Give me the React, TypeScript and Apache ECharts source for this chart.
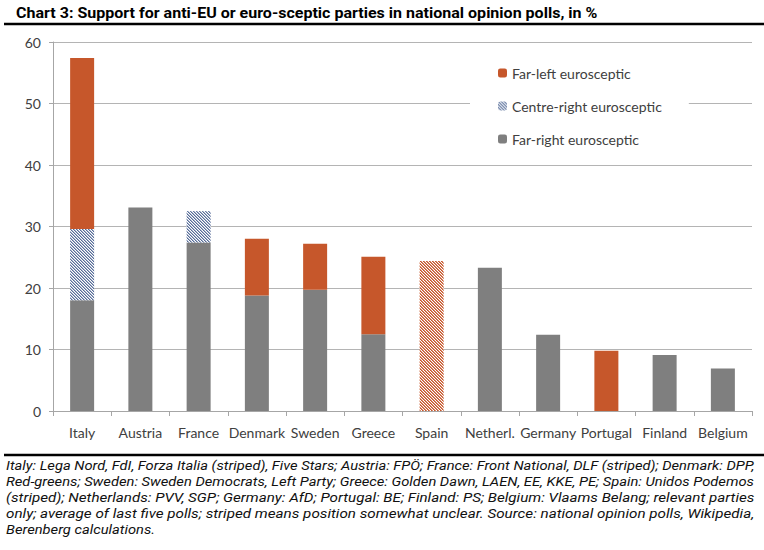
import React, { useEffect, useRef } from "react";
import * as echarts from "echarts";

const categories = ["Italy", "Austria", "France", "Denmark", "Sweden", "Greece", "Spain", "Netherl.", "Germany", "Portugal", "Finland", "Belgium"];
const farRight = [18.0, 33.1, 27.4, 18.8, 19.7, 12.5, null, 23.3, 12.4, null, 9.1, 6.9];
const centreRight = [11.6, null, 5.1, null, null, null, null, null, null, null, null, null];
const farLeft = [27.8, null, null, 9.2, 7.5, 12.6, null, null, null, 9.8, null, null];
const farLeftStriped = [null, null, null, null, null, null, 24.4, null, null, null, null, null];
const yTicks = { min: 0, max: 60, interval: 10 };

const titleText = "Chart 3: Support for anti-EU or euro-sceptic parties in national opinion polls, in %";
const noteLines = [
  "Italy: Lega Nord, FdI, Forza Italia (striped), Five Stars; Austria: FPÖ; France: Front National, DLF (striped); Denmark: DPP,",
  "Red-greens; Sweden: Sweden Democrats, Left Party; Greece: Golden Dawn, LAEN, EE, KKE, PE; Spain: Unidos Podemos",
  "(striped); Netherlands: PVV, SGP; Germany: AfD; Portugal: BE; Finland: PS; Belgium: Vlaams Belang; relevant parties",
  "only; average of last five polls; striped means position somewhat unclear. Source: national opinion polls, Wikipedia,",
  "Berenberg calculations.",
];

const ORANGE = "#C6572B";
const GREY = "#7F7F7F";
const BLUE = "#566C98";

function measure(text: string, font: string): number {
  const c = document.createElement("canvas").getContext("2d");
  if (!c) return text.length * 6;
  c.font = font;
  return c.measureText(text).width;
}

function makeStripes(hex: string, mid: number): any {
  const n = 3;
  const cv = document.createElement("canvas");
  cv.width = n;
  cv.height = n;
  const ctx = cv.getContext("2d");
  if (!ctx) return hex;
  const r = parseInt(hex.slice(1, 3), 16);
  const g = parseInt(hex.slice(3, 5), 16);
  const b = parseInt(hex.slice(5, 7), 16);
  const img = ctx.createImageData(n, n);
  for (let y = 0; y < n; y++) {
    for (let x = 0; x < n; x++) {
      const d = (((x - y) % n) + n) % n;
      const a = d === 0 ? 1 : d === 1 ? mid : 0;
      const i = (y * n + x) * 4;
      img.data[i] = Math.round(255 + (r - 255) * a);
      img.data[i + 1] = Math.round(255 + (g - 255) * a);
      img.data[i + 2] = Math.round(255 + (b - 255) * a);
      img.data[i + 3] = 255;
    }
  }
  ctx.putImageData(img, 0, 0);
  return { image: cv, repeat: "repeat" };
}

export default function App() {
  const ref = useRef<HTMLDivElement>(null);
  useEffect(() => {
    document.body.style.margin = "0";
    if (!ref.current) return;
    const chart = echarts.init(ref.current, undefined, { renderer: "svg" });

    const titleFont = "bold 15px Roboto";
    const titleScale = 582 / measure(titleText, titleFont);
    const noteFont = "italic 13px Roboto";
    const line1Scale = 749 / measure(noteLines[0], noteFont);
    const noteGraphics = noteLines.map((t, i) => {
      const s = i < 4 ? 749 / measure(t, noteFont) : line1Scale;
      return {
        type: "text",
        x: 6,
        y: 465 + i * 16,
        scaleX: s,
        style: {
          text: t,
          fontFamily: "Roboto",
          fontStyle: "italic",
          fontSize: 13,
          fill: "#111",
          verticalAlign: "middle",
          align: "left",
        },
      };
    });

    const blueStripes = makeStripes(BLUE, 0.5);
    const orangeStripes = makeStripes(ORANGE, 0.7);

    const option: any = {
      animation: false,
      backgroundColor: "#fff",
      grid: { left: 53, right: 12, top: 42, bottom: 139 },
      legend: {
        orient: "vertical",
        left: 470,
        top: 54,
        padding: [12, 27, 12, 28],
        backgroundColor: "#fff",
        itemWidth: 9,
        itemHeight: 9,
        itemGap: 19,
        textStyle: { fontFamily: "Lato", fontSize: 14, color: "#404040" },
        data: ["Far-left eurosceptic", "Centre-right eurosceptic", "Far-right eurosceptic"],
      },
      xAxis: {
        type: "category",
        data: categories,
        axisLine: { lineStyle: { color: "#a6a6a6" } },
        axisTick: { show: true, length: 5, lineStyle: { color: "#a6a6a6" } },
        axisLabel: { fontFamily: "Lato", fontSize: 14, color: "#404040", margin: 14, interval: 0 },
      },
      yAxis: {
        type: "value",
        min: yTicks.min,
        max: yTicks.max,
        interval: yTicks.interval,
        axisLine: { show: true, lineStyle: { color: "#a6a6a6" } },
        axisTick: { show: true, length: 4, lineStyle: { color: "#a6a6a6" } },
        axisLabel: { fontFamily: "Lato", fontSize: 14, color: "#404040", margin: 12 },
        splitLine: { lineStyle: { color: "#b4b4b4" } },
      },
      series: [
        {
          name: "Far-right eurosceptic",
          type: "bar",
          stack: "s",
          barWidth: 24,
          data: farRight,
          itemStyle: { color: GREY },
        },
        {
          name: "Centre-right eurosceptic",
          type: "bar",
          stack: "s",
          barWidth: 24,
          data: centreRight,
          itemStyle: { color: blueStripes },
        },
        {
          name: "Far-left eurosceptic",
          type: "bar",
          stack: "s",
          barWidth: 24,
          data: farLeft,
          itemStyle: { color: ORANGE },
        },
        {
          name: "Far-left eurosceptic (striped)",
          type: "bar",
          stack: "s",
          barWidth: 24,
          data: farLeftStriped,
          itemStyle: { color: orangeStripes },
        },
      ],
      graphic: [
        {
          type: "text",
          x: 16,
          y: 13,
          scaleX: titleScale,
          style: {
            text: titleText,
            fontFamily: "Roboto",
            fontWeight: "bold",
            fontSize: 15,
            fill: "#000",
            verticalAlign: "middle",
            align: "left",
          },
        },
        { type: "line", shape: { x1: 4, y1: 24, x2: 764, y2: 24 }, style: { stroke: "#000", lineWidth: 2.5 } },
        { type: "line", shape: { x1: 4, y1: 455, x2: 764, y2: 455 }, style: { stroke: "#000", lineWidth: 2.5 } },
        ...noteGraphics,
      ],
    };
    chart.setOption(option);
    return () => chart.dispose();
  }, []);
  return <div ref={ref} style={{ width: 764, height: 550 }} />;
}
